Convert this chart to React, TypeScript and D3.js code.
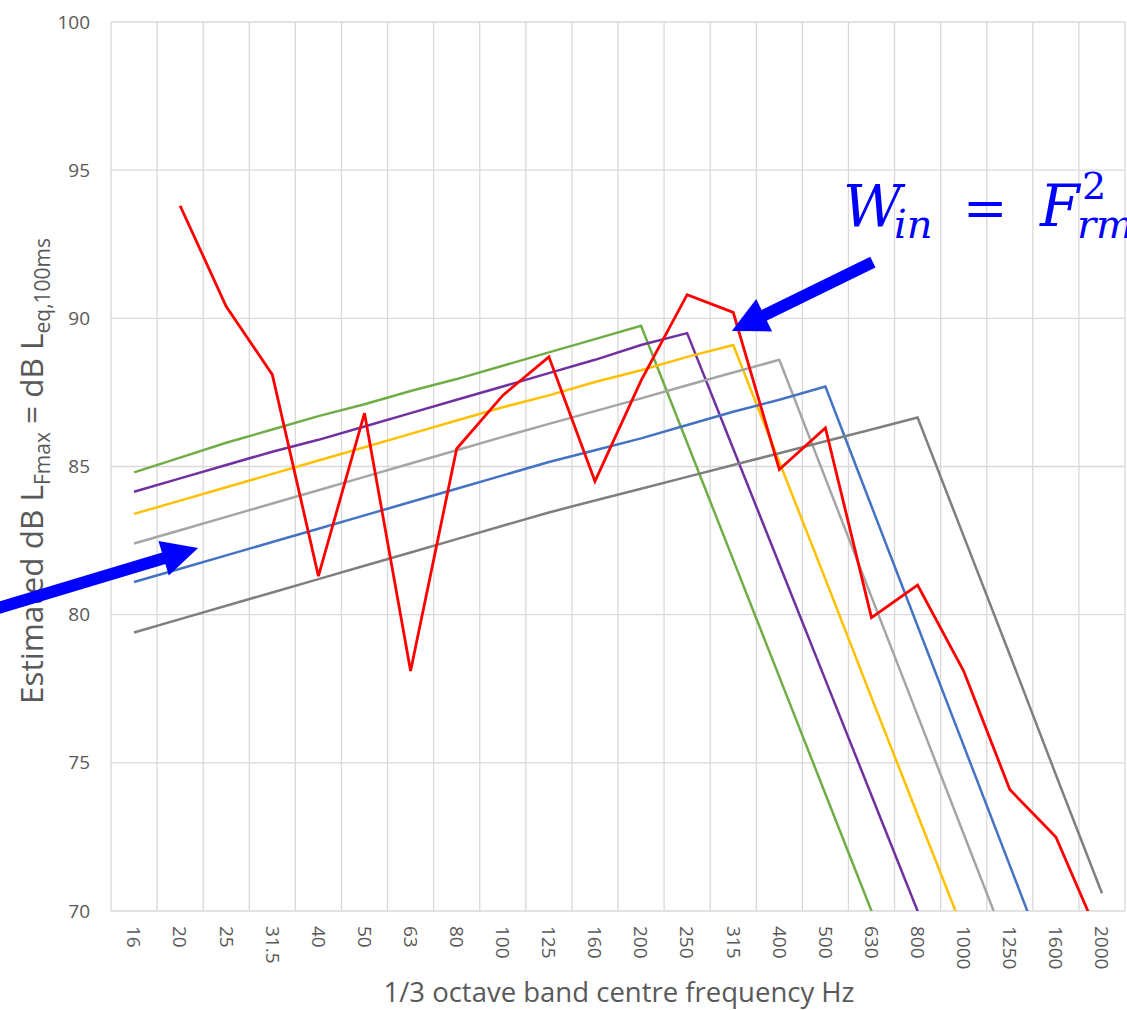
import React, { useEffect } from "react";
import * as d3 from "d3";

// 1/3 octave band centre frequencies (Hz)
const bands = ["16", "20", "25", "31.5", "40", "50", "63", "80", "100", "125", "160", "200", "250", "315", "400", "500", "630", "800", "1000", "1250", "1600", "2000"];

// measured spectrum (red)
const measured = [null, 93.8, 90.4, 88.1, 81.3, 86.8, 78.1, 85.6, 87.4, 88.7, 84.5, 87.9, 90.8, 90.2, 84.9, 86.3, 79.9, 81.0, 78.1, 74.1, 72.5, 68.9];

// estimated curves
const greenCurve = [84.8, 85.3, 85.8, 86.25, 86.7, 87.1, 87.55, 87.95, 88.4, 88.85, 89.3, 89.75, 85.8, 81.85, 77.9, 73.95, 70.0, 66.05];
const purpleCurve = [84.15, 84.6, 85.05, 85.5, 85.9, 86.35, 86.8, 87.25, 87.7, 88.15, 88.6, 89.1, 89.5, 85.6, 81.7, 77.8, 73.9, 70.0, 66.1];
const yellowCurve = [83.4, 83.85, 84.3, 84.75, 85.2, 85.65, 86.1, 86.55, 87.0, 87.4, 87.85, 88.25, 88.7, 89.1, 85.15, 81.2, 77.2, 73.25, 69.3];
const lightGreyCurve = [82.4, 82.85, 83.3, 83.75, 84.2, 84.65, 85.1, 85.55, 86.0, 86.44, 86.87, 87.3, 87.74, 88.17, 88.6, 84.6, 80.6, 76.6, 72.6, 68.6];
const blueCurve = [81.1, 81.55, 82.0, 82.45, 82.9, 83.35, 83.8, 84.25, 84.7, 85.15, 85.55, 85.95, 86.4, 86.85, 87.25, 87.7, 83.66, 79.62, 75.58, 71.54, 67.5];
const darkGreyCurve = [79.4, 79.85, 80.3, 80.75, 81.2, 81.65, 82.1, 82.55, 83.0, 83.45, 83.85, 84.25, 84.65, 85.05, 85.45, 85.85, 86.25, 86.65, 82.65, 78.65, 74.6, 70.6];

const yTicks = [70, 75, 80, 85, 90, 95, 100];

const series = [
  { name: "green", values: greenCurve, color: "#70AD47", width: 2.5 },
  { name: "purple", values: purpleCurve, color: "#7030A0", width: 2.5 },
  { name: "yellow", values: yellowCurve, color: "#FFC000", width: 2.5 },
  { name: "lightgrey", values: lightGreyCurve, color: "#A5A5A5", width: 2.5 },
  { name: "blue", values: blueCurve, color: "#4472C4", width: 2.5 },
  { name: "darkgrey", values: darkGreyCurve, color: "#7F7F7F", width: 2.5 },
  { name: "measured", values: measured, color: "#FF0000", width: 2.8 },
];

// annotation arrows, in (band index, dB)
const arrows = [
  { from: [-3.0, 80.2], to: [1.39, 82.25] },
  { from: [16.03, 91.9], to: [12.97, 89.57] },
];

const W = 1127;
const H = 1010;
const plot = { left: 111, right: 1125, top: 22, bottom: 911 };
const textColor = "#595959";
const gridColor = "#D9D9D9";
const font = "'Open Sans', sans-serif";
const mathFont = "'DejaVu Serif', serif";

export default function App() {
  useEffect(() => {
    document.body.style.margin = "0";
  }, []);

  const x = d3.scaleBand().domain(bands).range([plot.left, plot.right]).padding(0);
  const bw = x.bandwidth();
  const cx = (i) => (x(bands[i]) as number) + bw / 2;
  const xIdx = d3.scaleLinear().domain([0, bands.length - 1]).range([cx(0), cx(bands.length - 1)]);
  const y = d3.scaleLinear().domain([70, 100]).range([plot.bottom, plot.top]);

  const line = d3
    .line<number | null>()
    .defined((d) => d != null)
    .x((_, i) => cx(i))
    .y((d) => y(d as number));

  const gridX = d3.range(bands.length + 1).map((k) => plot.left + k * bw);

  const arrowShapes = arrows.map((a) => {
    const tx = xIdx(a.to[0]);
    const ty = y(a.to[1]);
    const fx = xIdx(a.from[0]);
    const fy = y(a.from[1]);
    const len = Math.hypot(tx - fx, ty - fy);
    const ux = (tx - fx) / len;
    const uy = (ty - fy) / len;
    const headLen = 36;
    const half = 18;
    const bx = tx - ux * headLen;
    const by = ty - uy * headLen;
    return {
      shaft: [fx, fy, bx + ux * 2, by + uy * 2],
      head: `${tx},${ty} ${bx - uy * half},${by + ux * half} ${bx + uy * half},${by - ux * half}`,
    };
  });

  return (
    <div style={{ position: "absolute", left: 0, top: 0, width: W, height: H, overflow: "hidden", background: "#fff" }}>
      <svg width={W} height={H} style={{ display: "block" }}>
        <defs>
          <clipPath id="plotClip">
            <rect x={plot.left} y={plot.top - 2} width={plot.right - plot.left + 2} height={plot.bottom - plot.top + 2} />
          </clipPath>
        </defs>
        <rect width={W} height={H} fill="#fff" />

        {/* grid */}
        {yTicks.map((t) => (
          <line key={"h" + t} x1={plot.left} x2={plot.right} y1={y(t)} y2={y(t)} stroke={gridColor} strokeWidth={1.3} />
        ))}
        {gridX.map((gx, k) => (
          <line key={"v" + k} x1={gx} x2={gx} y1={plot.top} y2={plot.bottom} stroke={gridColor} strokeWidth={1.3} />
        ))}

        {/* y tick labels */}
        {yTicks.map((t) => (
          <text key={"yt" + t} x={90} y={y(t)} dy="0.35em" textAnchor="end" fontFamily={font} fontSize={19} fill={textColor}>
            {t}
          </text>
        ))}

        {/* x tick labels */}
        {bands.map((b, i) => (
          <text
            key={"xt" + b}
            transform={`translate(${cx(i)},${926}) rotate(90)`}
            dy="0.35em"
            textAnchor="start"
            fontFamily={font}
            fontSize={19}
            fill={textColor}
          >
            {b}
          </text>
        ))}

        {/* series */}
        <g clipPath="url(#plotClip)">
          {series.map((s) => (
            <path
              key={s.name}
              d={line(s.values) || ""}
              fill="none"
              stroke={s.color}
              strokeWidth={s.width}
              strokeLinejoin="miter"
            />
          ))}
        </g>

        {/* axis titles */}
        <text x={619} y={1002} textAnchor="middle" fontFamily={font} fontSize={27.5} fill={textColor}>
          1/3 octave band centre frequency Hz
        </text>
        <text transform="translate(43,471) rotate(-90)" textAnchor="middle" fontFamily={font} fontSize={31.5} fill={textColor}>
          Estimated dB L
          <tspan fontSize={21} dy={7}>Fmax</tspan>
          <tspan dy={-7}> = dB L</tspan>
          <tspan fontSize={21} dy={7}>eq,100ms</tspan>
        </text>

        {/* formula */}
        <g fill="#0000FF" fontFamily={mathFont}>
          <text x={843} y={226} fontSize={57} fontStyle="italic">W</text>
          <text x={894} y={238} fontSize={40} fontStyle="italic">in</text>
          <text x={963} y={226} fontSize={53}>=</text>
          <text x={1040} y={226} fontSize={57} fontStyle="italic">F</text>
          <text x={1082} y={199} fontSize={38}>2</text>
          <text x={1077} y={238} fontSize={40} fontStyle="italic">rms</text>
        </g>

        {/* arrows */}
        {arrowShapes.map((a, k) => (
          <g key={"arr" + k} fill="#0000FF" stroke="none">
            <line x1={a.shaft[0]} y1={a.shaft[1]} x2={a.shaft[2]} y2={a.shaft[3]} stroke="#0000FF" strokeWidth={12} />
            <polygon points={a.head} />
          </g>
        ))}
      </svg>
    </div>
  );
}
